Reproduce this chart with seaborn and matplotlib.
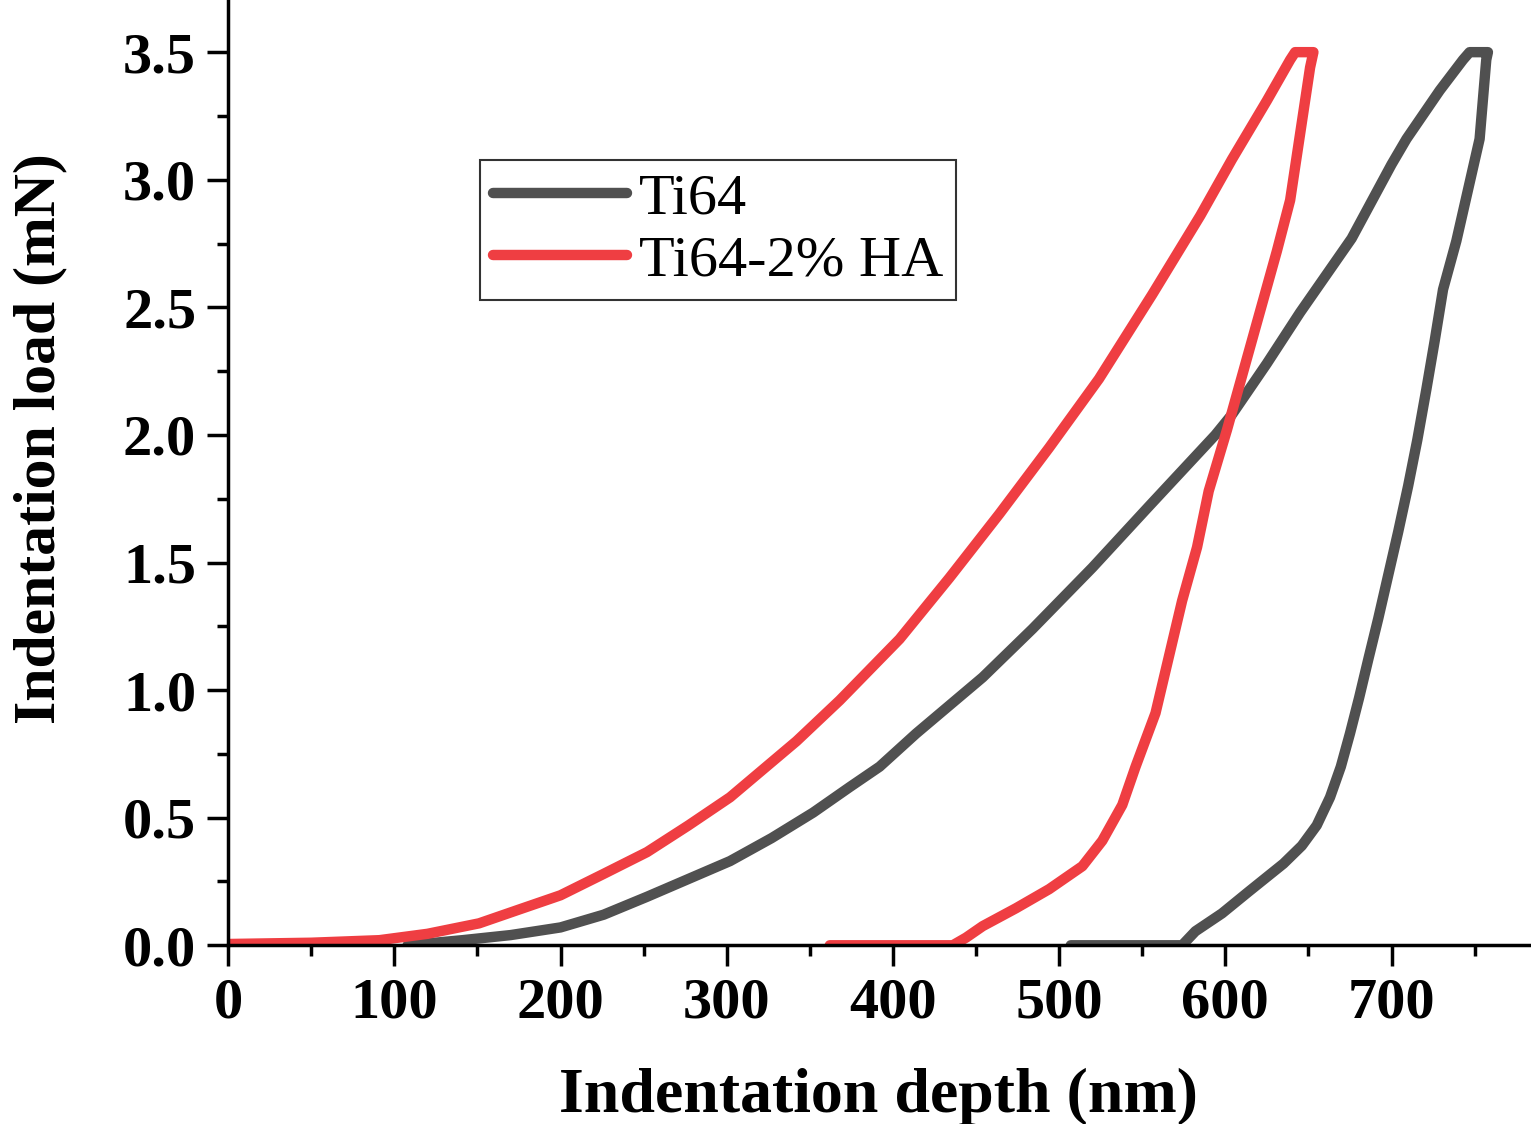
import pandas as pd
import matplotlib.pyplot as plt
import seaborn as sns
from matplotlib.ticker import MultipleLocator

# Load-depth curves (loading branch, then unloading branch)
ti64_depth = [108, 141, 170, 200, 226, 252, 277, 302, 327, 352, 374, 392, 414, 434, 454, 484, 520, 554,
              574, 594, 604, 625, 645, 676, 700, 709, 729, 743, 747, 758,
              757, 753, 746, 739, 731, 726, 721, 715.5, 710, 704, 698, 692, 686, 680.5, 675, 669.5, 663,
              655, 646, 635, 614, 598, 582, 574, 507]
ti64_load = [0.00, 0.02, 0.04, 0.07, 0.12, 0.19, 0.26, 0.33, 0.42, 0.52, 0.62, 0.70, 0.83, 0.94, 1.05, 1.24, 1.48, 1.72,
             1.86, 2.00, 2.08, 2.28, 2.48, 2.77, 3.06, 3.16, 3.35, 3.47, 3.50, 3.50,
             3.47, 3.16, 2.96, 2.76, 2.57, 2.37, 2.18, 1.98, 1.80, 1.62, 1.45, 1.28, 1.12, 0.97, 0.83, 0.70, 0.58,
             0.47, 0.39, 0.32, 0.21, 0.125, 0.055, 0.00, 0.00]

ha_depth = [0, 50, 91, 120, 151, 175, 200, 226, 252, 277, 302, 342, 368, 404, 434, 464, 494, 524, 556,
            585, 604, 625, 639, 642, 653,
            651, 645, 639, 631, 625, 613, 601, 590, 583, 574, 566, 558, 546, 538, 526, 514, 494,
            474, 454, 444, 436, 362]
ha_load = [0.005, 0.01, 0.02, 0.045, 0.086, 0.14, 0.196, 0.28, 0.365, 0.47, 0.58, 0.80, 0.96, 1.20, 1.44, 1.69, 1.95, 2.22, 2.55,
           2.86, 3.08, 3.31, 3.47, 3.50, 3.50,
           3.44, 3.18, 2.92, 2.72, 2.58, 2.30, 2.02, 1.78, 1.56, 1.35, 1.13, 0.91, 0.70, 0.55, 0.41, 0.31, 0.22,
           0.145, 0.075, 0.03, 0.00, 0.00]

df = pd.concat([
    pd.DataFrame({'depth': ti64_depth, 'load': ti64_load, 'sample': 'Ti64'}),
    pd.DataFrame({'depth': ha_depth, 'load': ha_load, 'sample': 'Ti64-2% HA'}),
], ignore_index=True)

sns.set_style('ticks')
plt.rcParams['font.family'] = ['Liberation Serif', 'DejaVu Serif']
plt.rcParams['text.color'] = 'black'
plt.rcParams['axes.labelcolor'] = 'black'
plt.rcParams['xtick.color'] = 'black'
plt.rcParams['ytick.color'] = 'black'

fig = plt.figure(figsize=(15.31, 11.24), dpi=100)
ax = fig.add_axes([0.149, 0.159, 0.85, 0.84])

sns.lineplot(data=df, x='depth', y='load', hue='sample', sort=False, estimator=None,
             palette={'Ti64': '#505050', 'Ti64-2% HA': '#ef3e42'}, linewidth=7.5,
             ax=ax)
for ln in ax.lines:
    ln.set_solid_capstyle('round')
    ln.set_solid_joinstyle('round')

ax.set_xlim(0, 783)
ax.set_ylim(0, 3.7)
ax.xaxis.set_major_locator(MultipleLocator(100))
ax.xaxis.set_minor_locator(MultipleLocator(50))
ax.yaxis.set_major_locator(MultipleLocator(0.5))
ax.yaxis.set_minor_locator(MultipleLocator(0.25))
ax.yaxis.set_major_formatter(plt.FormatStrFormatter('%.1f'))
sns.despine(ax=ax)
for s in ['left', 'bottom']:
    ax.spines[s].set_linewidth(2.5)
    ax.spines[s].set_color('black')
ax.tick_params(which='major', length=15, width=2.5, direction='out', color='black', pad=8)
ax.tick_params(which='minor', length=8, width=2.5, direction='out', color='black')
for lab in ax.get_xticklabels() + ax.get_yticklabels():
    lab.set_fontsize(42)
    lab.set_fontweight('bold')

ax.set_xlabel('Indentation depth (nm)', fontsize=46, fontweight='bold', labelpad=28)
ax.set_ylabel('Indentation load (mN)', fontsize=43, fontweight='bold')
ax.yaxis.set_label_coords(-0.1237, 0.537)

leg = ax.legend(loc='upper left', bbox_to_anchor=(0.1935, 0.8316), borderaxespad=0,
                fontsize=42, frameon=True, fancybox=False, edgecolor='black',
                handlelength=2.3, handletextpad=0.2, labelspacing=0.15, borderpad=0.22)
leg.get_frame().set_linewidth(1.5)
for h in leg.get_lines():
    h.set_linewidth(7.5)
    h.set_solid_capstyle('round')

fig.savefig('out.png', dpi=100)
